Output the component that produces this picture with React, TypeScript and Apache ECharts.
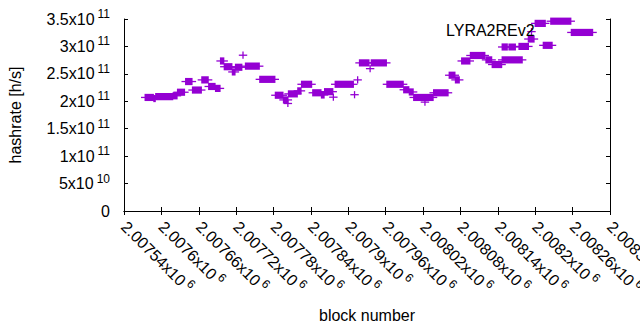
import React, { useEffect, useRef } from "react";
import * as echarts from "echarts";

// Runs of consecutive blocks sharing one hashrate value
const runStart = [
  2007574, 2007588, 2007591, 2007619, 2007626, 2007639, 2007650, 2007665, 2007676, 2007687,
  2007695, 2007701, 2007714, 2007719, 2007731, 2007735, 2007758, 2007783, 2007796, 2007803,
  2007804, 2007819, 2007825, 2007843, 2007857, 2007862, 2007876, 2007879, 2007910, 2007915,
  2007918, 2007935, 2007937, 2007962, 2007989, 2007998, 2008005, 2008023, 2008037, 2008062,
  2008072, 2008082, 2008096, 2008121, 2008131, 2008147, 2008147, 2008158, 2008174, 2008189,
  2008194, 2008200, 2008213, 2008225, 2008258,
];
const runEnd = [
  2007587, 2007590, 2007618, 2007625, 2007637, 2007649, 2007664, 2007675, 2007686, 2007694,
  2007700, 2007713, 2007718, 2007729, 2007731, 2007757, 2007782, 2007795, 2007803, 2007803,
  2007818, 2007824, 2007841, 2007856, 2007861, 2007875, 2007876, 2007908, 2007910, 2007915,
  2007933, 2007935, 2007961, 2007988, 2007997, 2008004, 2008036, 2008023, 2008060, 2008071,
  2008078, 2008095, 2008119, 2008130, 2008146, 2008179, 2008155, 2008168, 2008189, 2008198,
  2008194, 2008216, 2008227, 2008257, 2008292,
];
const runHashrate = [
  2.07e11, 2.05e11, 2.085e11, 2.1e11, 2.165e11, 2.36e11, 2.205e11, 2.39e11, 2.27e11, 2.235e11,
  2.735e11, 2.63e11, 2.535e11, 2.62e11, 2.84e11, 2.64e11, 2.4e11, 2.11e11, 2.025e11, 1.96e11,
  2.135e11, 2.19e11, 2.31e11, 2.155e11, 2.115e11, 2.175e11, 2.075e11, 2.31e11, 2.12e11, 2.39e11,
  2.7e11, 2.595e11, 2.7e11, 2.31e11, 2.21e11, 2.17e11, 2.07e11, 1.985e11, 2.155e11, 2.475e11,
  2.39e11, 2.735e11, 2.835e11, 2.755e11, 2.67e11, 2.755e11, 2.99e11, 2.99e11, 3.0e11, 3.135e11,
  3.27e11, 3.42e11, 3.02e11, 3.46e11, 3.255e11,
];

const SERIES_NAME = "LYRA2REv2";
const X_MIN = 2007540;
const X_MAX = 2008320;
const X_STEP = 60;
const Y_MIN = 0;
const Y_MAX = 3.5e11;
const Y_STEP = 5e10;

const COLOR = "#9400D3";
const FONT = "Liberation Sans";
const TXT = "#000";

const sci = (v: number) => {
  if (v === 0) return "{b|0}";
  const exp = Math.floor(Math.log10(Math.abs(v)) + 1e-9);
  const m = +(v / Math.pow(10, exp)).toFixed(6);
  return `{b|${m}x10}{s|${exp}}`;
};

const rich = {
  b: { fontSize: 16, fontFamily: FONT, color: TXT, lineHeight: 22 },
  s: { fontSize: 12, fontFamily: FONT, color: TXT, lineHeight: 12, verticalAlign: "top", padding: [0, 0, 0, 3] },
};

export default function App() {
  const ref = useRef<HTMLDivElement>(null);
  useEffect(() => {
    if (!ref.current) return;
    const chart = echarts.init(ref.current, undefined, { renderer: "svg" });
    const data = runStart.map((s, i) => [s, runEnd[i], runHashrate[i]]);
    const axisLine = { show: true, lineStyle: { color: "#000", width: 1 } };
    const tick = { show: true, inside: true, length: 4, lineStyle: { color: "#000" } };
    chart.setOption({
      animation: false,
      backgroundColor: "#fff",
      textStyle: { fontFamily: FONT },
      grid: { left: 124, right: 30, top: 19, bottom: 119, containLabel: false, outerBoundsMode: "none" },
      legend: {
        data: [SERIES_NAME],
        left: 440,
        top: 22,
        padding: 0,
        itemWidth: 1,
        itemHeight: 1,
        itemStyle: { opacity: 0 },
        textStyle: { fontSize: 16, fontFamily: FONT, color: "#000" },
        selectedMode: false,
      },
      xAxis: [
        {
          type: "value",
          min: X_MIN,
          max: X_MAX,
          interval: X_STEP,
          name: "block number",
          nameLocation: "middle",
          nameGap: 96,
          nameTextStyle: { fontSize: 16, fontFamily: FONT, color: TXT },
          axisLine,
          axisTick: tick,
          splitLine: { show: false },
          axisLabel: {
            rotate: -45,
            margin: 13,
            interval: 0,
            hideOverlap: false,
            showMinLabel: true,
            showMaxLabel: true,
            formatter: (v: number) => sci(v),
            rich,
          },
        },
        {
          type: "value",
          position: "top",
          min: X_MIN,
          max: X_MAX,
          interval: X_STEP,
          axisLine,
          axisTick: tick,
          axisLabel: { show: false },
          splitLine: { show: false },
        },
      ],
      yAxis: [
        {
          type: "value",
          min: Y_MIN,
          max: Y_MAX,
          interval: Y_STEP,
          name: "hashrate [h/s]",
          nameLocation: "middle",
          nameGap: 101,
          nameRotate: 90,
          nameTextStyle: { fontSize: 16, fontFamily: FONT, color: TXT },
          axisLine,
          axisTick: tick,
          splitLine: { show: false },
          axisLabel: {
            margin: 14,
            showMinLabel: true,
            showMaxLabel: true,
            formatter: (v: number) => sci(v),
            rich,
          },
        },
        {
          type: "value",
          position: "right",
          min: Y_MIN,
          max: Y_MAX,
          interval: Y_STEP,
          axisLine,
          axisTick: tick,
          axisLabel: { show: false },
          splitLine: { show: false },
        },
      ],
      series: [
        {
          name: SERIES_NAME,
          type: "custom",
          xAxisIndex: 0,
          yAxisIndex: 0,
          itemStyle: { color: COLOR },
          encode: { x: [0, 1], y: 2 },
          data,
          renderItem: (params: any, api: any) => {
            const a = api.coord([api.value(0), api.value(2)]);
            const b = api.coord([api.value(1), api.value(2)]);
            const y = a[1];
            return {
              type: "group",
              children: [
                {
                  type: "line",
                  shape: { x1: a[0] - 4.2, y1: y, x2: b[0] + 4.2, y2: y },
                  style: { stroke: COLOR, lineWidth: 1.3 },
                },
                {
                  type: "rect",
                  shape: { x: a[0] - 0.65, y: y - 3.6, width: b[0] - a[0] + 1.3, height: 7.2 },
                  style: { fill: COLOR },
                },
              ],
            };
          },
        },
      ],
    });
    return () => chart.dispose();
  }, []);
  return (
    <div
      ref={ref}
      style={{ position: "fixed", left: 0, top: 0, width: 640, height: 330, background: "#fff" }}
    />
  );
}
